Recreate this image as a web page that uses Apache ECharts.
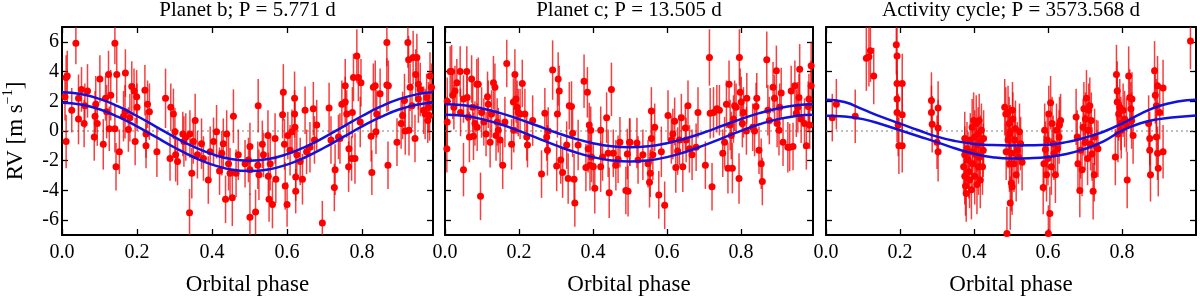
<!DOCTYPE html>
<html><head><meta charset="utf-8">
<script src="https://cdn.jsdelivr.net/npm/echarts@6/dist/echarts.min.js"></script>
<style>html,body{margin:0;padding:0;background:#fff}#c{width:1200px;height:301px}</style>
</head><body><div id="c"></div>
<script>
const titles = ['Planet b; P = 5.771 d', 'Planet c; P = 13.505 d', 'Activity cycle; P = 3573.568 d'];
const xTicks = [0, 0.2, 0.4, 0.6, 0.8];
const yTicks = [-6, -4, -2, 0, 2, 4, 6];
const xMaxes = [0.989, 0.995, 1.0];

// [phase, RV, error]
const pointsB = [
[0.008,2.3,1.6],[0.014,3.7,1.7],[0.011,3.6,1.5],[0.011,-0.7,1.8],[0.026,1.4,1.5],[0.037,5.9,1.4],[0.044,2.2,1.6],[0.044,0.8,1.7],[0.052,2.8,1.5],[0.059,0.5,1.6],[0.068,2.7,1.8],[0.061,1.7,1.5],[0.086,-0.4,1.6],[0.088,1.0,1.7],[0.09,1.8,1.9],[0.094,0.5,1.5],[0.101,3.5,1.6],[0.11,-0.9,1.7],[0.116,2.2,1.5],[0.119,1.3,1.8],[0.124,3.8,1.6],[0.126,0.15,1.5],[0.13,2.4,1.7],[0.141,5.9,1.4],[0.144,-2.4,1.6],[0.146,3.8,1.9],[0.141,0.15,1.6],[0.153,-1.4,1.5],[0.164,1.0,1.7],[0.169,3.9,1.6],[0.168,1.3,1.8],[0.177,0.1,1.5],[0.181,0.9,1.6],[0.186,3.0,1.7],[0.195,-0.7,1.6],[0.192,2.7,1.5],[0.199,2.3,1.8],[0.2,1.6,1.6],[0.221,2.75,1.7],[0.224,-1.0,1.5],[0.228,1.8,1.6],[0.233,1.3,1.9],[0.224,-0.2,1.6],[0.253,-1.4,1.7],[0.276,2.2,2.0],[0.29,1.6,1.6],[0.288,-1.85,1.5],[0.297,1.15,1.7],[0.301,-0.05,1.6],[0.303,-1.6,1.8],[0.308,-2.05,1.6],[0.322,-0.2,1.5],[0.325,-0.7,1.7],[0.33,-0.4,1.6],[0.341,-0.2,1.6],[0.346,-2.85,1.7],[0.34,-5.5,1.6],[0.35,-0.7,1.5],[0.355,0.7,1.8],[0.361,-1.6,1.6],[0.372,-0.85,1.7],[0.377,-1.85,1.5],[0.39,-3.3,1.6],[0.395,-1.4,1.7],[0.404,-0.7,1.6],[0.412,-0.05,1.8],[0.42,-2.7,1.6],[0.426,-1.5,1.5],[0.43,-0.85,1.7],[0.439,-0.2,1.6],[0.444,-2.2,1.8],[0.436,-4.6,1.6],[0.448,-2.85,1.7],[0.454,-4.5,1.9],[0.457,1.0,1.8],[0.464,-2.85,1.6],[0.47,-1.6,1.7],[0.488,-2.2,1.6],
[0.501,-1.05,1.6],[0.501,-2.6,1.7],[0.497,-1.95,1.5],[0.501,-5.8,1.6],[0.516,-5.45,1.5],[0.523,1.7,1.8],[0.522,-2.3,1.6],[0.525,-2.95,1.7],[0.534,-0.9,1.6],[0.537,-1.6,1.5],[0.549,-0.3,1.7],[0.55,-3.05,1.6],[0.552,-4.6,1.5],[0.555,-2.2,1.8],[0.561,-4.95,1.6],[0.568,-0.5,1.7],[0.57,-3.25,1.6],[0.59,2.6,1.9],[0.588,1.1,1.6],[0.593,-0.9,1.7],[0.595,-3.7,1.6],[0.6,-4.95,1.5],[0.602,-0.3,1.6],[0.608,-1.3,1.7],[0.613,-0.05,1.5],[0.62,2.2,1.8],[0.62,1.15,1.6],[0.621,0.25,1.7],[0.623,-3.1,1.6],[0.623,-4.05,1.5],[0.626,-1.6,1.7],[0.635,-2.05,1.6],[0.641,-3.25,1.7],[0.648,1.4,1.6],[0.652,-1.4,1.5],[0.661,-1.1,1.7],[0.67,1.5,1.8],[0.673,-0.6,1.6],[0.679,0.4,1.7],[0.694,-6.2,1.5],[0.712,1.55,1.7],[0.717,-0.6,1.6],[0.728,-2.6,1.7],[0.726,-3.8,1.6],[0.737,-0.4,1.5],[0.741,-0.5,1.7],[0.746,1.8,1.6],[0.755,1.95,1.7],[0.755,3.05,1.8],[0.759,1.15,1.6],[0.764,-2.4,1.7],[0.765,-1.2,1.6],[0.772,-1.85,1.5],[0.774,1.25,1.7],[0.777,3.6,1.6],[0.781,-1.85,1.7],[0.786,5.05,1.8],[0.79,3.6,1.6],[0.795,0.6,1.7],[0.797,3.25,1.6],[0.826,-2.8,1.5],[0.824,-0.35,1.7],[0.83,2.95,1.6],[0.835,3.05,1.7],[0.839,1.15,1.6],[0.837,-0.05,1.5],[0.848,2.5,1.7],[0.866,5.95,1.6],[0.866,3.1,1.8],[0.869,-2.3,1.6],[0.87,3.05,1.7],[0.893,-0.75,1.6],[0.904,0.5,1.7],[0.908,1.05,1.6],[0.913,2.05,1.8],[0.915,0.0,1.6],[0.922,5.95,1.7],[0.924,4.8,1.6],[0.925,0.05,1.7],[0.928,2.95,1.6],[0.933,1.7,1.5],[0.936,4.95,1.8],[0.941,-0.5,1.6],[0.943,3.8,1.7],[0.946,4.95,1.6],[0.95,3.15,1.7],[0.95,2.15,1.6],[0.955,2.8,1.8],[0.964,1.4,1.6],[0.968,1.15,1.7],[0.972,2.25,1.6],[0.975,0.7,1.5],[0.977,1.6,1.7],[0.981,3.7,1.6],[0.98,1.05,1.7],[0.985,2.95,1.6]
];

const pointsC = [
[0.005,-1.2,1.6],[0.006,0.6,1.7],[0.006,2.0,1.6],[0.014,4.0,1.7],[0.018,4.0,1.8],[0.021,2.4,1.6],[0.024,1.6,1.5],[0.027,2.7,1.7],[0.032,3.25,1.6],[0.041,4.0,1.7],[0.042,1.25,1.6],[0.05,-2.6,1.8],[0.05,2.15,1.6],[0.059,4.0,1.7],[0.06,2.25,1.6],[0.063,0.95,1.5],[0.066,-0.4,1.7],[0.072,3.5,1.6],[0.075,1.6,1.7],[0.077,-0.35,1.6],[0.081,0.5,1.5],[0.086,3.15,1.7],[0.087,0.25,1.6],[0.09,3.15,1.8],[0.096,-4.4,1.6],[0.099,1.25,1.7],[0.105,0.6,1.6],[0.111,-0.2,1.5],[0.115,2.3,1.7],[0.117,1.8,1.6],[0.122,-0.75,1.7],[0.126,1.15,1.6],[0.131,3.25,1.8],[0.135,2.95,1.6],[0.138,-0.3,1.7],[0.141,0.6,1.6],[0.144,0.05,1.5],[0.149,-0.6,1.7],[0.156,-2.3,1.6],[0.162,0.6,1.7],[0.167,4.55,1.6],[0.18,-0.9,1.7],[0.185,1.95,1.6],[0.186,0.05,1.5],[0.189,3.8,1.7],[0.192,2.15,1.6],[0.195,1.6,1.8],[0.198,1.25,1.6],[0.203,1.15,1.7],[0.209,3.2,1.6],[0.216,1.15,1.7],[0.221,-0.4,1.6],[0.223,-0.95,1.5],[0.237,0.7,1.7],[0.261,-2.9,1.6],[0.27,1.2,1.7],[0.275,-0.4,1.6],[0.277,-1.3,1.7],[0.279,0.0,1.6],[0.291,4.1,2.0],[0.302,-2.35,1.7],[0.304,1.15,1.6],[0.306,3.5,1.8],[0.309,2.7,1.7],[0.313,-1.95,1.6],[0.318,-2.8,1.7],[0.329,-0.95,1.6],[0.333,-3.2,1.7],[0.336,1.7,1.6],[0.342,1.65,1.7],[0.345,-0.15,1.6],[0.349,-3.25,1.7],[0.351,-4.85,1.6],[0.36,-0.95,1.7],[0.376,3.35,1.8],[0.381,-2.45,1.6],[0.385,2.6,1.7],[0.387,-1.2,1.6],[0.39,0.4,1.5],[0.392,-2.3,1.7],[0.394,0.05,1.6],[0.396,-1.75,1.7],[0.401,-2.4,1.6],[0.405,-3.85,1.7],[0.421,0.05,1.6],[0.421,-2.4,1.7],[0.426,-1.75,1.6],[0.437,0.9,1.7],[0.441,-1.5,1.6],[0.444,-4.15,1.7],[0.45,2.8,1.8],[0.455,-1.5,1.6],[0.462,-2.3,1.7],[0.468,-1.9,1.6],[0.473,-0.75,1.7],[0.489,-4.0,1.6],[0.493,-1.55,1.7],[0.5,-0.75,1.6],
[0.495,-4.05,1.7],[0.499,-0.75,1.6],[0.519,-0.8,1.7],[0.522,-1.95,1.6],[0.535,-1.6,1.7],[0.549,-2.2,1.6],[0.553,-3.45,1.7],[0.555,-2.85,1.6],[0.558,-0.5,1.7],[0.558,1.35,1.6],[0.562,-1.6,1.7],[0.567,0.25,1.6],[0.578,-4.3,1.6],[0.585,-1.4,1.7],[0.594,-5.0,1.6],[0.603,1.05,1.7],[0.612,-0.6,1.6],[0.616,-0.2,1.7],[0.621,0.65,1.6],[0.624,-2.45,1.7],[0.629,-1.35,1.6],[0.634,-0.6,1.7],[0.639,0.9,1.6],[0.643,-2.4,1.7],[0.65,0.2,1.6],[0.652,-0.6,1.5],[0.657,1.7,1.7],[0.661,-1.2,1.6],[0.668,-1.6,1.7],[0.679,-1.1,1.6],[0.684,1.25,1.7],[0.704,-2.3,1.6],[0.715,4.95,1.9],[0.717,1.2,1.7],[0.722,-3.75,1.6],[0.726,1.25,1.7],[0.735,1.5,1.6],[0.742,1.4,1.7],[0.751,-1.5,1.6],[0.756,-0.75,1.7],[0.761,1.8,1.6],[0.765,-2.5,1.7],[0.768,3.15,1.6],[0.771,0.4,1.7],[0.774,-0.3,1.6],[0.777,-2.5,1.7],[0.78,0.8,1.6],[0.783,1.7,1.7],[0.787,1.6,1.6],[0.795,-3.2,1.7],[0.796,4.95,1.9],[0.798,2.6,1.6],[0.801,1.95,1.7],[0.804,0.5,1.6],[0.807,1.25,1.7],[0.815,0.0,1.6],[0.816,2.2,1.7],[0.832,0.25,1.6],[0.837,0.0,1.7],[0.841,1.65,1.6],[0.843,2.2,1.7],[0.849,-1.3,1.6],[0.855,-2.2,1.7],[0.858,-3.4,1.6],[0.87,4.8,1.9],[0.873,1.4,1.7],[0.877,0.7,1.6],[0.887,2.95,1.7],[0.891,2.2,1.6],[0.896,4.05,1.7],[0.898,0.5,1.6],[0.903,0.05,1.7],[0.905,1.6,1.6],[0.909,2.55,1.7],[0.914,-0.75,1.6],[0.927,-1.1,1.7],[0.932,-1.1,1.6],[0.936,2.7,1.7],[0.941,-1.05,1.6],[0.946,3.05,1.7],[0.95,1.2,1.6],[0.954,1.6,1.7],[0.957,2.25,1.6],[0.959,4.15,1.7],[0.963,0.8,1.6],[0.972,0.5,1.7],[0.977,-1.0,1.6],[0.982,1.65,1.7],[0.986,0.4,1.6],[0.99,3.05,1.7],[0.99,4.4,1.6],[0.984,2.15,1.7]
];

const pointsA = [
[0.017,0.9,1.6],[0.028,1.8,1.7],[0.079,1.0,1.8],[0.109,4.9,2.2],[0.116,5.0,2.0],[0.12,5.4,2.1],[0.129,3.7,1.9],[0.19,5.8,2.0],[0.192,5.05,1.9],[0.192,3.2,2.0],[0.192,2.15,1.9],[0.192,1.25,2.0],[0.195,0.4,2.1],[0.197,-1.0,1.9],[0.206,3.2,2.0],[0.206,1.1,1.9],[0.206,-1.0,1.8],[0.285,2.05,1.9],[0.285,1.25,1.8],[0.287,0.45,1.9],[0.303,1.55,1.8],[0.303,0.2,1.9],[0.3,-0.75,1.8],[0.303,-1.4,2.0],
[0.375,-0.5,1.8],[0.375,-1.6,1.9],[0.372,-2.4,1.8],[0.375,-3.05,1.9],[0.377,-3.7,2.0],[0.379,-4.2,1.9],[0.381,-1.2,1.8],[0.384,-1.95,1.9],[0.386,-2.75,1.8],[0.388,-3.3,1.9],[0.39,-0.6,1.8],[0.393,-3.95,2.0],[0.395,-1.4,1.8],[0.395,0.25,1.9],[0.397,-2.2,1.8],[0.399,0.7,1.9],[0.402,-0.4,1.8],[0.402,-3.05,1.9],[0.405,-1.6,1.8],[0.406,0.5,1.9],[0.408,-0.95,1.8],[0.408,-3.6,2.0],[0.411,-0.2,1.8],[0.412,-2.4,1.9],[0.414,0.7,1.8],[0.415,-1.75,1.9],[0.417,-0.75,1.8],[0.417,-3.3,1.9],[0.42,0.05,1.8],[0.423,-2.4,1.9],[0.425,-1.3,1.8],[0.426,-0.5,1.9],
[0.483,1.6,1.9],[0.486,1.15,1.8],[0.487,-1.4,1.9],[0.489,-6.9,1.8],[0.492,-0.6,1.9],[0.495,0.5,1.8],[0.496,-2.2,1.9],[0.498,-4.85,1.8],[0.501,-3.5,1.9],[0.498,-0.05,1.8],[0.504,1.4,1.9],[0.492,1.25,1.8],[0.496,-0.2,1.9],[0.501,-1.5,1.8],[0.503,-3.75,1.9],[0.505,0.8,1.8],[0.508,-2.2,1.9],[0.51,-0.6,1.8],[0.512,0.15,1.9],[0.514,-2.95,1.8],[0.517,-1.3,1.9],[0.52,-1.75,1.8],[0.523,-0.05,1.9],[0.526,-0.85,1.8],[0.53,-2.1,1.9],
[0.587,-3.8,1.8],[0.589,-2.2,1.9],[0.591,0.05,1.8],[0.593,-1.25,1.9],[0.596,-2.95,1.8],[0.598,-0.6,1.9],[0.6,-1.85,1.8],[0.602,1.15,1.9],[0.605,-5.55,1.8],[0.601,-6.9,1.9],[0.607,1.9,1.8],[0.609,-2.4,1.9],[0.611,0.5,1.8],[0.614,-0.85,1.9],[0.616,-1.5,1.8],[0.62,-2.95,1.9],[0.623,0.05,1.8],[0.626,-1.2,1.9],[0.63,-0.4,1.8],[0.631,0.4,1.9],[0.634,0.7,1.8],
[0.676,0.95,1.9],[0.679,-0.4,1.8],[0.681,-2.2,1.9],[0.686,-4.0,1.8],[0.688,-1.3,1.9],[0.692,-2.6,1.8],[0.695,0.25,1.9],[0.697,1.5,1.8],[0.7,-0.75,1.9],[0.701,0.8,1.8],[0.704,2.2,1.9],[0.707,-1.85,1.8],[0.708,0.05,1.9],[0.71,1.4,1.8],[0.713,1.7,1.9],[0.715,-0.85,1.8],[0.717,0.7,1.9],[0.719,-1.55,1.8],[0.722,-4.05,1.9],[0.725,-2.95,1.8],[0.726,-0.4,1.9],[0.731,-1.05,1.8],[0.735,-1.2,1.9],
[0.782,-1.75,1.9],[0.785,3.8,2.0],[0.787,1.95,1.9],[0.787,2.7,2.0],[0.789,-0.2,1.9],[0.791,1.15,1.8],[0.794,1.6,1.9],[0.797,0.5,1.8],[0.798,0.05,1.9],[0.803,1.4,1.8],[0.807,0.8,1.9],[0.812,0.4,1.8],[0.814,-3.3,1.9],[0.818,3.7,2.0],[0.821,2.25,1.9],[0.824,1.5,1.8],[0.826,0.7,1.9],[0.827,2.15,1.8],[0.83,-0.3,1.9],
[0.872,0.5,1.9],[0.875,-0.5,1.8],[0.875,-1.3,1.9],[0.877,-2.95,1.8],[0.888,4.05,2.0],[0.89,2.4,1.9],[0.893,1.7,1.8],[0.893,-0.4,1.9],[0.896,3.05,2.0],[0.896,-1.5,1.8],[0.898,-2.5,1.9],[0.902,1.25,1.8],[0.911,2.9,1.9],[0.911,-1.4,1.8],[0.985,6.05,1.9]
];

// model curves [phase, RV]
const curveBUpper = [[0,2.6],[0.05,2.49],[0.1,2.16],[0.15,1.65],[0.2,1.01],[0.25,0.3],[0.3,-0.41],[0.35,-1.05],[0.4,-1.56],[0.45,-1.89],[0.5,-2.0],[0.55,-1.89],[0.6,-1.56],[0.65,-1.05],[0.7,-0.41],[0.75,0.3],[0.8,1.01],[0.85,1.65],[0.9,2.16],[0.95,2.49],[0.989,2.6]];
const curveBLower = [[0,1.9],[0.05,1.79],[0.1,1.46],[0.15,0.95],[0.2,0.31],[0.25,-0.4],[0.3,-1.11],[0.35,-1.75],[0.4,-2.26],[0.45,-2.59],[0.5,-2.7],[0.55,-2.59],[0.6,-2.26],[0.65,-1.75],[0.7,-1.11],[0.75,-0.4],[0.8,0.31],[0.85,0.95],[0.9,1.46],[0.95,1.79],[0.989,1.9]];
const curveCUpper = [[0,1.8],[0.05,1.73],[0.1,1.52],[0.15,1.2],[0.2,0.8],[0.25,0.35],[0.3,-0.1],[0.35,-0.5],[0.4,-0.82],[0.45,-1.03],[0.5,-1.1],[0.55,-1.03],[0.6,-0.82],[0.65,-0.5],[0.7,-0.1],[0.75,0.35],[0.8,0.8],[0.85,1.2],[0.9,1.52],[0.95,1.73],[0.995,1.8]];
const curveCLower = [[0,1.1],[0.05,1.02],[0.1,0.8],[0.15,0.45],[0.2,0.01],[0.25,-0.48],[0.3,-0.97],[0.35,-1.41],[0.4,-1.76],[0.45,-1.98],[0.5,-2.06],[0.55,-1.98],[0.6,-1.76],[0.65,-1.41],[0.7,-0.97],[0.75,-0.48],[0.8,0.01],[0.85,0.45],[0.9,0.8],[0.95,1.02],[0.995,1.1]];
const curveAUpper = [[0,2.1],[0.05,1.95],[0.1,1.45],[0.15,0.95],[0.2,0.5],[0.25,0.05],[0.3,-0.38],[0.35,-0.68],[0.4,-0.87],[0.45,-0.95],[0.5,-0.97],[0.55,-0.96],[0.6,-0.92],[0.65,-0.75],[0.7,-0.45],[0.75,-0.05],[0.8,0.5],[0.85,1.15],[0.9,1.68],[0.95,1.98],[1.0,2.1]];
const curveALower = [[0,1.02],[0.05,0.97],[0.1,0.8],[0.15,0.45],[0.2,0.05],[0.25,-0.35],[0.3,-0.75],[0.35,-1.18],[0.4,-1.53],[0.45,-1.76],[0.5,-1.85],[0.55,-1.83],[0.6,-1.75],[0.65,-1.55],[0.7,-1.2],[0.75,-0.7],[0.8,0.02],[0.85,0.52],[0.9,0.8],[0.95,0.95],[1.0,1.05]];

const panels = [
  {points: pointsB, curves: [curveBUpper, curveBLower]},
  {points: pointsC, curves: [curveCUpper, curveCLower]},
  {points: pointsA, curves: [curveAUpper, curveALower]}
];

const FONT = 'Liberation Serif';
const YMIN = -7, YMAX = 7;
const gridBoxes = [
  {left: 62, top: 27, width: 371, height: 212},
  {left: 445, top: 27, width: 368, height: 212},
  {left: 826, top: 27, width: 370, height: 212}
];

const axisLine = {show: true, onZero: false, lineStyle: {color: '#000', width: 2}};
const tickStyle = {color: '#000', width: 1.3};

const grid = [], xAxis = [], yAxis = [], series = [], title = [];
panels.forEach((p, i) => {
  const g = gridBoxes[i];
  grid.push(Object.assign({containLabel: false}, g));
  title.push({
    text: titles[i], left: g.left + g.width / 2, top: 0, textAlign: 'center', padding: 0,
    textStyle: {fontFamily: FONT, fontSize: 21, fontWeight: 'normal', color: '#000'}
  });
  xAxis.push({
    gridIndex: i, type: 'value', position: 'bottom', min: 0, max: xMaxes[i],
    axisLine, splitLine: {show: false},
    axisTick: {inside: true, length: 6, customValues: xTicks, lineStyle: tickStyle},
    axisLabel: {customValues: xTicks, formatter: v => v.toFixed(1), fontFamily: FONT, fontSize: 20, color: '#000', margin: 8},
    name: 'Orbital phase', nameLocation: 'middle', nameGap: 38,
    nameTextStyle: {fontFamily: FONT, fontSize: 23, color: '#000'}
  });
  xAxis.push({
    gridIndex: i, type: 'value', position: 'top', min: 0, max: xMaxes[i],
    axisLine, splitLine: {show: false},
    axisTick: {inside: true, length: 6, customValues: xTicks, lineStyle: tickStyle},
    axisLabel: {show: false}
  });
  yAxis.push(Object.assign({
    gridIndex: i, type: 'value', position: 'left', min: YMIN, max: YMAX,
    axisLine, splitLine: {show: false},
    axisTick: {inside: true, length: 6, customValues: yTicks, lineStyle: tickStyle},
    axisLabel: {show: i === 0, customValues: yTicks, fontFamily: FONT, fontSize: 20, color: '#000', margin: 3}
  }, i === 0 ? {
    name: '{a|RV [m s}{s|−1}{a|]}', nameLocation: 'middle', nameGap: 35, nameRotate: 90,
    nameTextStyle: {fontFamily: FONT, fontSize: 23, color: '#000',
      rich: {a: {fontFamily: FONT, fontSize: 23, color: '#000', lineHeight: 26, verticalAlign: 'bottom'},
             s: {fontFamily: FONT, fontSize: 14, color: '#000', lineHeight: 26, verticalAlign: 'top'}}}
  } : {}));
  yAxis.push({
    gridIndex: i, type: 'value', position: 'right', min: YMIN, max: YMAX,
    axisLine, splitLine: {show: false},
    axisTick: {inside: true, length: 6, customValues: yTicks, lineStyle: tickStyle},
    axisLabel: {show: false}
  });
  const xi = 2 * i, yi = 2 * i;
  series.push({
    type: 'line', xAxisIndex: xi, yAxisIndex: yi, data: [[0, 0], [xMaxes[i], 0]],
    symbol: 'none', silent: true, z: 1,
    lineStyle: {color: '#808080', width: 1.2, type: [2, 3]}
  });
  series.push({
    type: 'custom', xAxisIndex: xi, yAxisIndex: yi, data: p.points, z: 2, silent: true,
    encode: {x: 0, y: 1},
    renderItem: (params, api) => {
      const x = api.value(0), y = api.value(1), e = api.value(2);
      const lo = Math.max(y - e, YMIN), hi = Math.min(y + e, YMAX);
      const a = api.coord([x, lo]), b = api.coord([x, hi]);
      return {type: 'line', shape: {x1: a[0], y1: a[1], x2: b[0], y2: b[1]},
        style: {stroke: 'rgba(240,0,0,0.75)', lineWidth: 1.5}};
    }
  });
  series.push({
    type: 'scatter', xAxisIndex: xi, yAxisIndex: yi, data: p.points, z: 3, silent: true,
    symbol: 'circle', symbolSize: 7, itemStyle: {color: '#ff0000', opacity: 1}
  });
  p.curves.forEach(c => series.push({
    type: 'line', xAxisIndex: xi, yAxisIndex: yi, data: c, smooth: 0.5, z: 4, silent: true,
    symbol: 'none', lineStyle: {color: '#1212dc', width: 2.5}
  }));
});

const chart = echarts.init(document.getElementById('c'), null, {renderer: 'canvas'});
chart.setOption({animation: false, backgroundColor: '#fff', title, grid, xAxis, yAxis, series});
</script>
</body></html>
